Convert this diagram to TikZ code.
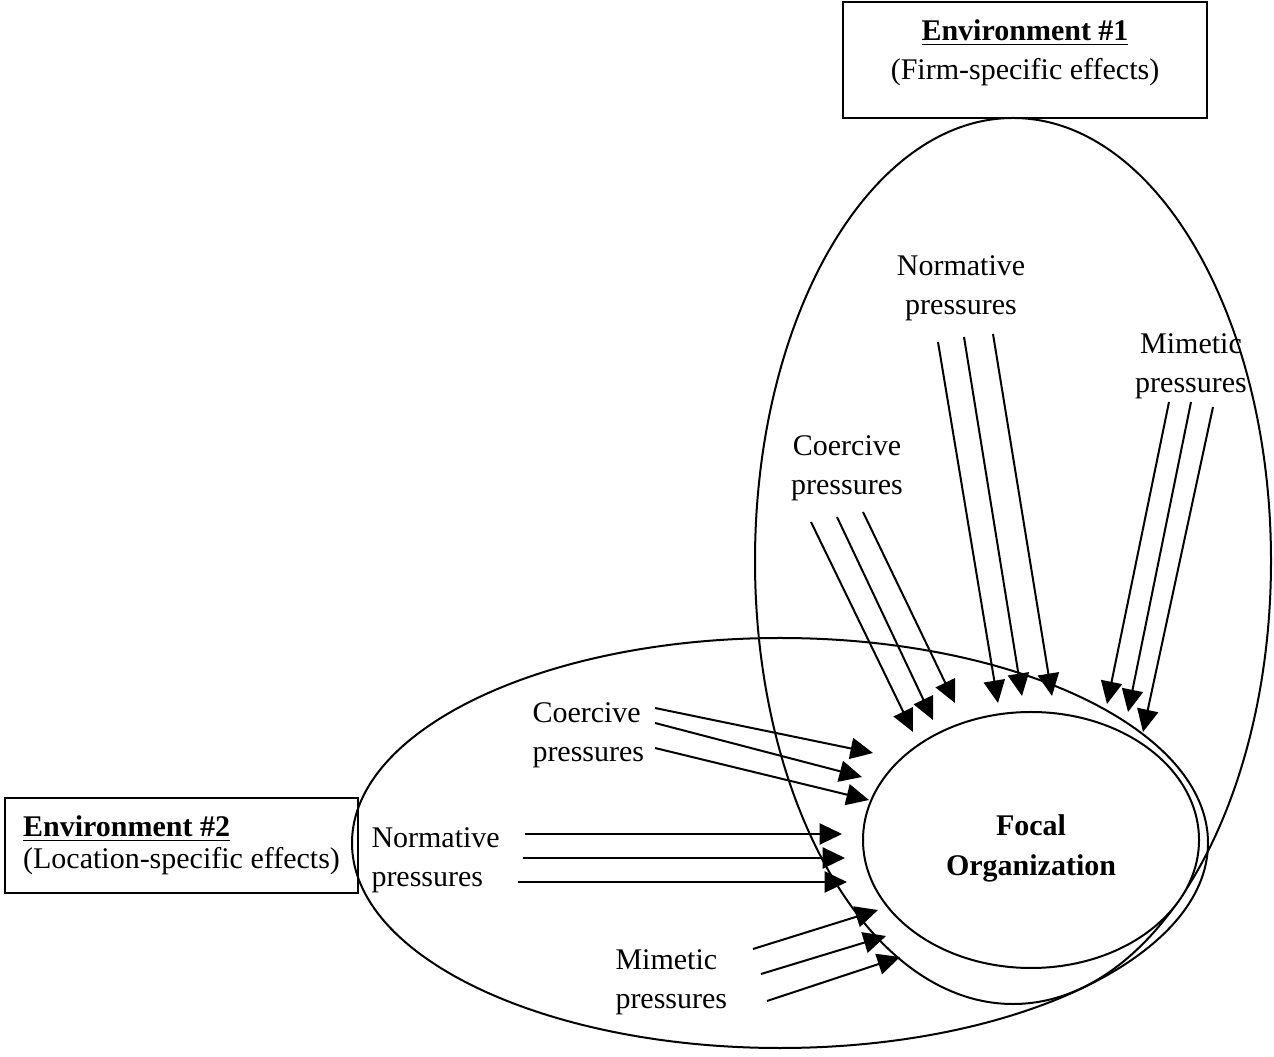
\documentclass[tikz,border=0pt]{standalone}
\usepackage{fontspec}
\setmainfont{Liberation Serif}
\usetikzlibrary{arrows.meta,positioning,shapes.geometric}

\begin{document}
\begin{tikzpicture}[x=0.4pt,y=-0.4pt,font=\fontsize{12}{15.5}\selectfont]
        \tikzstyle{arrow} = [line width=0.8pt,-{Triangle[length=9pt,width=8.5pt]}]
        \tikzstyle{zone} = [draw,ellipse,line width=0.8pt,inner sep=0pt]
        \tikzstyle{envbox} = [draw,line width=1pt,inner sep=0pt]
        \tikzstyle{txt} = [align=center,inner sep=0pt]

        \useasboundingbox (0,0) rectangle (1274,1057);

        \node[zone,minimum width=206.4pt,minimum height=354.4pt] (firmzone) at (1013,561) {};
        \node[zone,minimum width=342.4pt,minimum height=164pt] (locationzone) at (780,843) {};
        \node[zone,fill=white,minimum width=134.4pt,minimum height=102.4pt] (focal) at (1031,840) {};
        \node[txt,font=\fontsize{12}{16}\selectfont\bfseries] (focaltitle) at (1031,848) {Focal\\Organization};

        \node[envbox,minimum width=145.6pt,minimum height=46.4pt] (envone) at (1025,60) {};
        \node[txt,below=7.5pt of envone.north] (envonetitle) {\underline{\textbf{Environment \#1}}\\(Firm-specific effects)};
        \node[envbox,minimum width=141.2pt,minimum height=38pt,align=left,
              font=\fontsize{12}{13}\selectfont] (envtwo) at (181.5,845.5)
              {\underline{\textbf{Environment \#2}}\\(Location-specific effects)};

        \node[txt] (firmcoercive) at (847,468) {Coercive\\pressures};
        \node[txt] (firmnormative) at (961,288) {Normative\\pressures};
        \node[txt] (firmmimetic) at (1191,366) {Mimetic\\pressures};
        \node[txt,align=left,anchor=west] (loccoercive) at (532,735) {Coercive\\pressures};
        \node[txt,align=left,anchor=west] (locnormative) at (371,860) {Normative\\pressures};
        \node[txt,align=left,anchor=west] (locmimetic) at (615,982) {Mimetic\\pressures};

        \foreach \a/\sx/\sy/\ex/\ey in {fc1/811/522/913/732, fc2/837/517/933/720, fc3/863/512/955/703,
                fn1/938/342/998/703, fn2/964/337/1022/696, fn3/993/334/1052/696,
                fm1/1169/402/1107/704, fm2/1191/402/1128/712, fm3/1213/407/1143/732,
                lc1/655/708/873/753, lc2/655/723/862/777, lc3/655/748/869/800,
                ln1/525/834/842/834, ln2/523/858/845/858, ln3/518/882/847/882,
                lm1/753/949/878/910, lm2/761/974/886/936, lm3/767/1001/900/957} {
            \coordinate (\a-from) at (\sx,\sy);
            \coordinate (\a-to) at (\ex,\ey);
            \draw [arrow] (\a-from) -- (\a-to);
        }
    \end{tikzpicture}
\end{document}
